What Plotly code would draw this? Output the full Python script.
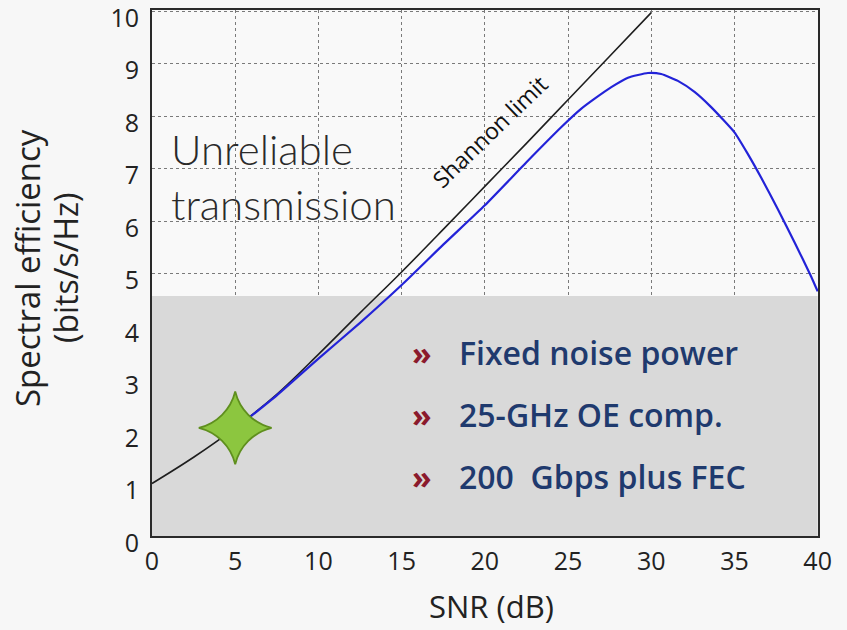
import plotly.graph_objects as go

# ---- data ----
shannon_snr = [0, 2.5, 5, 7.5, 10, 12.5, 15, 17.5, 20, 22.5, 25, 27.5, 30]
shannon_se = [1.0, 1.5, 2.06, 2.7, 3.46, 4.25, 5.03, 5.84, 6.66, 7.48, 8.31, 9.14, 9.97]

system_snr = [5.3, 7.5, 10, 12.5, 15, 17.5, 20, 22.5, 24.6, 25.8, 26.6, 27.6, 28.6, 29.8,
              30.6, 31.6, 32.6, 33.6, 35, 35.8, 36.6, 37.6, 38.6, 39.6, 40]
system_se = [2.12, 2.68, 3.38, 4.06, 4.78, 5.55, 6.3, 7.12, 7.79, 8.14, 8.33, 8.55, 8.73, 8.82,
             8.80, 8.67, 8.46, 8.17, 7.69, 7.28, 6.83, 6.23, 5.6, 4.95, 4.66]

star_snr = [5]
star_se = [2.06]

reliable_limit = 4.57
x_ticks = [0, 5, 10, 15, 20, 25, 30, 35, 40]
y_ticks = [0, 1, 2, 3, 4, 5, 6, 7, 8, 9, 10]
bullets = ["Fixed noise power", "25-GHz OE comp.", "200  Gbps plus FEC"]
bullet_y = [3.5, 2.32, 1.13]

fig = go.Figure()

fig.add_trace(go.Scatter(x=shannon_snr, y=shannon_se, mode="lines",
                         line=dict(color="#1e1e1e", width=1.6, shape="spline"),
                         showlegend=False, hoverinfo="skip"))
fig.add_trace(go.Scatter(x=system_snr, y=system_se, mode="lines",
                         line=dict(color="#2323d8", width=2.2, shape="spline", smoothing=0.5),
                         showlegend=False, hoverinfo="skip"))
fig.add_trace(go.Scatter(x=star_snr, y=star_se, mode="markers",
                         marker=dict(symbol="star-diamond", size=52, color="#8cc63f",
                                     line=dict(color="#5f8f1e", width=1.8)),
                         showlegend=False, hoverinfo="skip"))

fig.add_shape(type="rect", xref="x", yref="y", x0=0, x1=40, y0=0, y1=reliable_limit,
              fillcolor="#d9d9d9", line=dict(width=0), layer="between")

annos = []
annos.append(dict(x=1.0, y=6.85, xref="x", yref="y", text="Unreliable<br>transmission",
                  showarrow=False, xanchor="left", yanchor="middle", align="left",
                  font=dict(family="Lato", size=42, color="#2a2a2a", weight=300)))
annos.append(dict(x=20.3, y=7.72, xref="x", yref="y", text="Shannon limit",
                  showarrow=False, textangle=-44,
                  font=dict(family="Open Sans", size=23, color="#111")))
for t, yy in zip(bullets, bullet_y):
    annos.append(dict(x=16.2, y=yy, xref="x", yref="y", text="»", showarrow=False,
                      xanchor="center", yanchor="middle",
                      font=dict(family="Open Sans", size=32, color="#8b1a2c", weight=700)))
    annos.append(dict(x=18.35, y=yy, xref="x", yref="y", text=t, showarrow=False,
                      xanchor="left", yanchor="middle",
                      font=dict(family="Open Sans", size=32, color="#1f3a6e", weight=600)))
annos.append(dict(x=0, y=0.5095, xref="paper", yref="paper", xshift=-125,
                  text="Spectral efficiency", showarrow=False,
                  textangle=-90, xanchor="center", yanchor="middle",
                  font=dict(family="Open Sans", size=33, color="#222")))
annos.append(dict(x=0, y=0.5095, xref="paper", yref="paper", xshift=-87,
                  text="(bits/s/Hz)", showarrow=False,
                  textangle=-90, xanchor="center", yanchor="middle",
                  font=dict(family="Open Sans", size=32, color="#222")))
annos.append(dict(x=0.5, y=0, xref="paper", yref="paper", yshift=-70, xshift=6,
                  text="SNR (dB)", showarrow=False, xanchor="center", yanchor="middle",
                  font=dict(family="Open Sans", size=31, color="#222")))

fig.update_layout(
    width=847, height=630,
    margin=dict(l=152, r=29, t=10, b=94),
    paper_bgcolor="#f7f7f7",
    plot_bgcolor="#f9f9f9",
    annotations=annos,
    xaxis=dict(range=[0, 40.02], tickvals=x_ticks, showgrid=True, gridcolor="#7a7a7a",
               griddash="3px,3px", gridwidth=1.2, zeroline=False, automargin=False,
               showline=True, mirror=True, linecolor="#2a2a2a", linewidth=2,
               ticks="", ticklabelstandoff=2, ticklabeloverflow="allow",
               tickfont=dict(family="Open Sans", size=25, color="#222")),
    yaxis=dict(range=[0, 10.02], tickvals=y_ticks, showgrid=True, gridcolor="#7a7a7a",
               griddash="3px,3px", gridwidth=1.2, zeroline=False, automargin=False,
               showline=True, mirror=True, linecolor="#2a2a2a", linewidth=2,
               ticks="", ticklabelstandoff=6, ticklabelshift=7, ticklabeloverflow="allow",
               tickfont=dict(family="Open Sans", size=25, color="#222")),
)

fig.write_html("out.html")
